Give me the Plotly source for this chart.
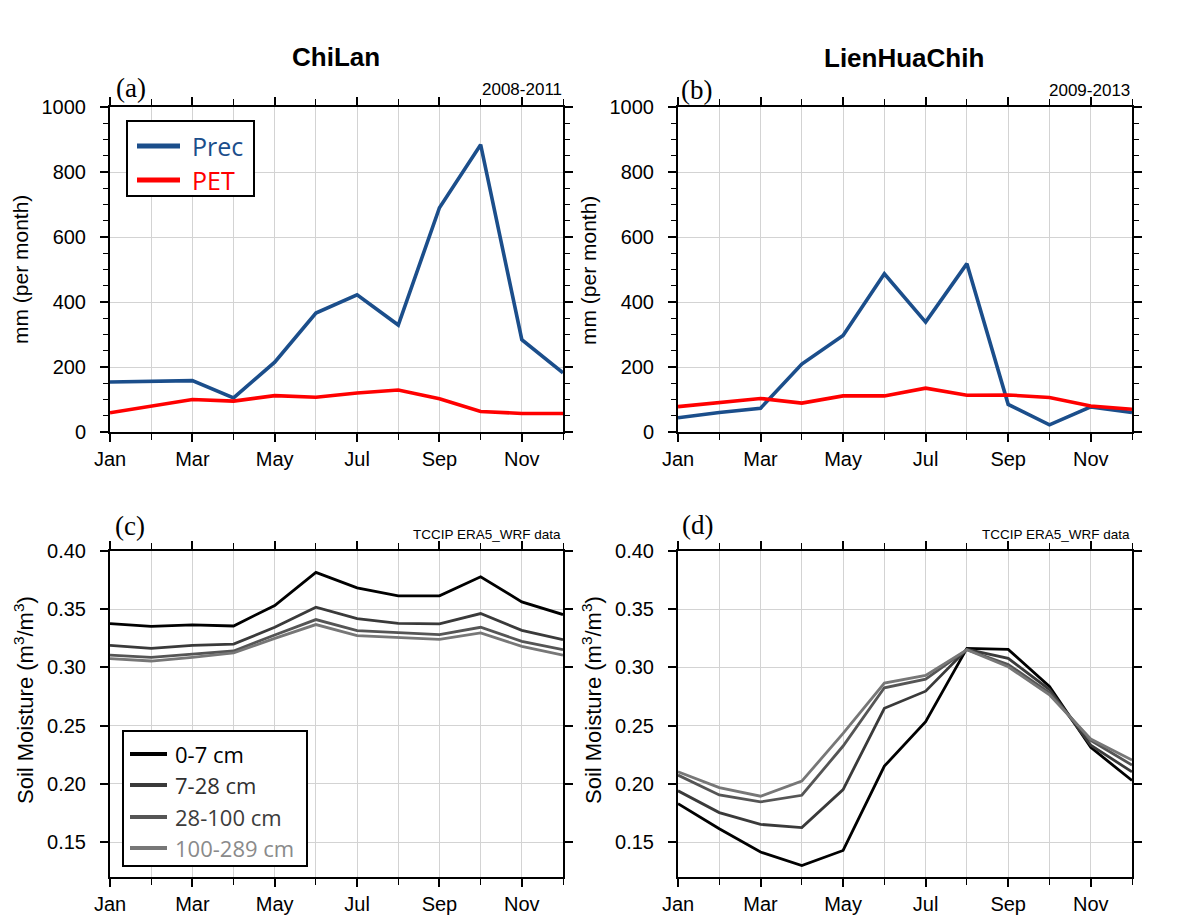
import plotly.graph_objects as go

W, H = 1179, 921

months = list(range(1, 13))
month_tickvals = [1, 3, 5, 7, 9, 11]
month_ticktext = ["Jan", "Mar", "May", "Jul", "Sep", "Nov"]

# Panel (a) ChiLan 2008-2011
chilan_prec = [154, 156, 158, 105, 215, 366, 422, 329, 690, 884, 284, 182]
chilan_pet = [59, 80, 100, 95, 112, 107, 120, 129, 102, 63, 57, 57]

# Panel (b) LienHuaChih 2009-2013
lhc_prec = [44, 60, 73, 209, 297, 487, 338, 518, 85, 22, 77, 60]
lhc_pet = [78, 91, 103, 89, 111, 111, 135, 113, 114, 106, 80, 70]

# Panel (c) ChiLan soil moisture
depth_labels = ["0-7 cm", "7-28 cm", "28-100 cm", "100-289 cm"]
chilan_sm = [
    [0.3376, 0.3353, 0.3365, 0.3356, 0.3532, 0.3816, 0.3684, 0.3615, 0.3615, 0.3779, 0.3563, 0.3454],
    [0.3190, 0.3164, 0.3190, 0.3201, 0.3345, 0.3517, 0.3420, 0.3379, 0.3374, 0.3463, 0.3319, 0.3239],
    [0.3106, 0.3086, 0.3115, 0.3141, 0.3279, 0.3411, 0.3316, 0.3296, 0.3282, 0.3345, 0.3224, 0.3152],
    [0.3075, 0.3055, 0.3086, 0.3124, 0.3250, 0.3368, 0.3273, 0.3256, 0.3241, 0.3296, 0.3181, 0.3106],
]

# Panel (d) LienHuaChih soil moisture
lhc_sm = [
    [0.1830, 0.1615, 0.1414, 0.1299, 0.1428, 0.2152, 0.2534, 0.3164, 0.3155, 0.2836, 0.2313, 0.2029],
    [0.1940, 0.1753, 0.1652, 0.1624, 0.1951, 0.2649, 0.2796, 0.3155, 0.3078, 0.2810, 0.2333, 0.2103],
    [0.2075, 0.1905, 0.1845, 0.1902, 0.2325, 0.2825, 0.2899, 0.3152, 0.3026, 0.2782, 0.2374, 0.2161],
    [0.2103, 0.1968, 0.1894, 0.2023, 0.2434, 0.2865, 0.2931, 0.3152, 0.3006, 0.2764, 0.2385, 0.2204],
]

sm_line_colors = ["#000000", "#3a3a3a", "#555555", "#777777"]
sm_text_colors = ["#000000", "#303030", "#3c3c3c", "#8a8a8a"]
PREC_C = "#1b4e8b"
PET_C = "#ff0000"


def px2x(px):
    return px / W


def px2y(py):
    return 1 - py / H


xdom_l = [px2x(110), px2x(563)]
xdom_r = [px2x(678), px2x(1132)]
ydom_t = [px2y(432), px2y(107)]
ydom_b = [px2y(877), px2y(551)]

fig = go.Figure()

# top panels
fig.add_trace(go.Scatter(x=months, y=chilan_prec, mode="lines", line=dict(color=PREC_C, width=3.6),
                         name="Prec", xaxis="x", yaxis="y"))
fig.add_trace(go.Scatter(x=months, y=chilan_pet, mode="lines", line=dict(color=PET_C, width=3.6),
                         name="PET", xaxis="x", yaxis="y"))
fig.add_trace(go.Scatter(x=months, y=lhc_prec, mode="lines", line=dict(color=PREC_C, width=3.6),
                         name="Prec", xaxis="x2", yaxis="y2"))
fig.add_trace(go.Scatter(x=months, y=lhc_pet, mode="lines", line=dict(color=PET_C, width=3.6),
                         name="PET", xaxis="x2", yaxis="y2"))

for i in range(4):
    fig.add_trace(go.Scatter(x=months, y=chilan_sm[i], mode="lines",
                             line=dict(color=sm_line_colors[i], width=2.8),
                             name=depth_labels[i], xaxis="x3", yaxis="y3"))
for i in range(4):
    fig.add_trace(go.Scatter(x=months, y=lhc_sm[i], mode="lines",
                             line=dict(color=sm_line_colors[i], width=2.8),
                             name=depth_labels[i], xaxis="x4", yaxis="y4"))

tickfont = dict(family="Liberation Sans, Arial", size=20, color="black")
GRID = "#d3d3d3"


def xaxis(domain, anchor):
    return dict(domain=domain, anchor=anchor, range=[1, 12], automargin=False,
                tickmode="array", tickvals=month_tickvals, ticktext=month_ticktext,
                ticks="outside", ticklen=8, tickwidth=1.5, tickcolor="black",
                showline=True, linecolor="black", linewidth=2, mirror="ticks",
                showgrid=True, gridcolor=GRID, gridwidth=1,
                minor=dict(tickmode="linear", tick0=1, dtick=1, ticks="outside", ticklen=6,
                           tickwidth=1.2, tickcolor="black", showgrid=True, gridcolor=GRID, gridwidth=1),
                tickfont=tickfont, zeroline=False, fixedrange=True)


def yaxis_top(domain, anchor):
    return dict(domain=domain, anchor=anchor, range=[0, 1000], automargin=False,
                tickmode="linear", tick0=0, dtick=200, ticklabelstandoff=10,
                ticks="outside", ticklen=8, tickwidth=1.5, tickcolor="black",
                showline=True, linecolor="black", linewidth=2, mirror="ticks",
                showgrid=True, gridcolor=GRID, gridwidth=1,
                minor=dict(tickmode="linear", tick0=0, dtick=50, ticks="outside", ticklen=5,
                           tickwidth=1.2, tickcolor="black", showgrid=False),
                tickfont=tickfont, zeroline=False, fixedrange=True)


def yaxis_bot(domain, anchor):
    return dict(domain=domain, anchor=anchor, range=[0.12, 0.40], automargin=False,
                tickmode="linear", tick0=0.15, dtick=0.05, tickformat=".2f", ticklabelstandoff=10,
                ticks="outside", ticklen=8, tickwidth=1.5, tickcolor="black",
                showline=True, linecolor="black", linewidth=2, mirror="ticks",
                showgrid=True, gridcolor=GRID, gridwidth=1,
                tickfont=tickfont, zeroline=False, fixedrange=True)


ann = []
shapes = []


def text(px, py, s, size, family="Liberation Sans, Arial", xanchor="center", yanchor="middle",
         angle=0, bold=False, color="black"):
    ann.append(dict(x=px2x(px), y=px2y(py), xref="paper", yref="paper", text=(f"<b>{s}</b>" if bold else s),
                    showarrow=False, xanchor=xanchor, yanchor=yanchor, textangle=angle,
                    font=dict(family=family, size=size, color=color)))


text(336, 57, "ChiLan", 26, bold=True)
text(904, 58, "LienHuaChih", 26, bold=True)
text(114, 88, "(a)", 27, family="Liberation Serif, Times New Roman", xanchor="left")
text(679, 90, "(b)", 27, family="Liberation Serif, Times New Roman", xanchor="left")
text(113, 526, "(c)", 27, family="Liberation Serif, Times New Roman", xanchor="left")
text(680, 525, "(d)", 27, family="Liberation Serif, Times New Roman", xanchor="left")
text(564, 89, "2008-2011", 17, xanchor="right")
text(1132, 90, "2009-2013", 17, xanchor="right")
text(563, 534, "TCCIP ERA5_WRF data", 13.5, xanchor="right")
text(1132, 534, "TCCIP ERA5_WRF data", 13.5, xanchor="right")
text(20, 270, "mm (per month)", 21, angle=-90)
text(588, 271, "mm (per month)", 21, angle=-90)
text(24, 700, "Soil Moisture (m<sup>3</sup>/m<sup>3</sup>)", 22, angle=-90)
text(592, 700, "Soil Moisture (m<sup>3</sup>/m<sup>3</sup>)", 22, angle=-90)


def legend_box(x0, y0, x1, y1, entries, line_x0, line_x1, text_x, ys, lw, size):
    shapes.append(dict(type="rect", xref="paper", yref="paper",
                       x0=px2x(x0), x1=px2x(x1), y0=px2y(y1), y1=px2y(y0),
                       line=dict(color="black", width=2), fillcolor="white", layer="above"))
    for (label, lc, tc), yy in zip(entries, ys):
        shapes.append(dict(type="line", xref="paper", yref="paper",
                           x0=px2x(line_x0), x1=px2x(line_x1), y0=px2y(yy), y1=px2y(yy),
                           line=dict(color=lc, width=lw), layer="above"))
        text(text_x, yy, label, size, family="Open Sans, Noto Sans", xanchor="left", color=tc)


legend_box(127, 121, 254, 196,
           [("Prec", PREC_C, PREC_C), ("PET", PET_C, PET_C)],
           137, 180, 190, [146, 180], 5, 25)
legend_box(123, 731, 307, 866,
           [(depth_labels[i], sm_line_colors[i], sm_text_colors[i]) for i in range(4)],
           130, 167, 173, [754, 785, 817, 848], 4, 22)

fig.update_layout(
    width=W, height=H,
    margin=dict(l=0, r=0, t=0, b=0, autoexpand=False),
    paper_bgcolor="white", plot_bgcolor="white",
    xaxis=xaxis(xdom_l, "y"), yaxis=yaxis_top(ydom_t, "x"),
    xaxis2=xaxis(xdom_r, "y2"), yaxis2=yaxis_top(ydom_t, "x2"),
    xaxis3=xaxis(xdom_l, "y3"), yaxis3=yaxis_bot(ydom_b, "x3"),
    xaxis4=xaxis(xdom_r, "y4"), yaxis4=yaxis_bot(ydom_b, "x4"),
    annotations=ann,
    shapes=shapes,
    showlegend=False,
)

fig.write_html("out.html")
